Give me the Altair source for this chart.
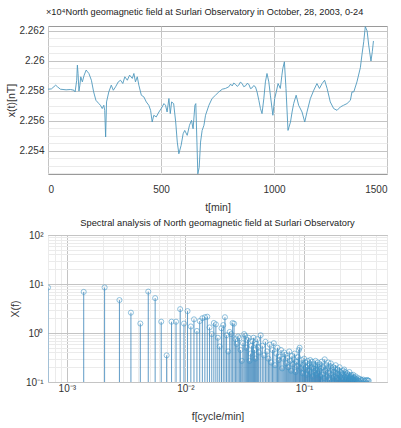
import altair as alt
import pandas as pd

# ---------------- data: time series (t in min, x in 10^4 nT) ----------------
t_min = [0, 15, 34, 42, 55, 80, 100, 115, 120, 127, 130, 133, 137, 141, 145, 152, 160, 169, 175, 181,
         192, 202, 212, 225, 232, 240, 247, 251, 255, 259, 269, 280, 289, 299, 311, 321, 331, 340, 351, 361,
         373, 380, 387, 395, 402, 413, 424, 435, 446, 454, 461, 468, 479, 491, 501, 513, 520, 527, 535, 541,
         547, 556, 565, 572, 579, 589, 598, 605, 616, 626, 635, 642, 650, 654, 659, 663, 669, 675, 682, 690,
         697, 712, 726, 741, 756, 771, 785, 800, 808, 815, 822, 830, 837, 844, 851, 859, 866, 874, 881, 889,
         896, 903, 910, 918, 925, 933, 940, 947, 955, 962, 969, 977, 984, 995, 1003, 1010, 1018, 1028, 1035, 1039,
         1046, 1053, 1062, 1073, 1080, 1087, 1098, 1109, 1124, 1136, 1146, 1161, 1176, 1190, 1201, 1213, 1224, 1235, 1249, 1264,
         1279, 1294, 1308, 1323, 1338, 1345, 1353, 1367, 1382, 1389, 1397, 1404, 1412, 1419, 1429, 1435, 1440]
x_field = [2.25811, 2.25813, 2.25838, 2.25827, 2.25811, 2.25807, 2.25809, 2.25804, 2.25793, 2.25871,
           2.25972, 2.25916, 2.25798, 2.25838, 2.25894, 2.25860, 2.25905, 2.25939, 2.25927, 2.25916,
           2.25871, 2.25793, 2.25737, 2.25715, 2.25704, 2.25682, 2.25704, 2.25670, 2.25492, 2.25726,
           2.25793, 2.25838, 2.25804, 2.25827, 2.25860, 2.25871, 2.25849, 2.25894, 2.25871, 2.25905,
           2.25883, 2.25916, 2.25860, 2.25894, 2.25838, 2.25771, 2.25760, 2.25726, 2.25704, 2.25670,
           2.25592, 2.25637, 2.25626, 2.25659, 2.25682, 2.25715, 2.25704, 2.25659, 2.25749, 2.25648,
           2.25726, 2.25715, 2.25592, 2.25458, 2.25380, 2.25436, 2.25514, 2.25536, 2.25503, 2.25570,
           2.25603, 2.25547, 2.25704, 2.25715, 2.25458, 2.25246, 2.25290, 2.25458, 2.25536, 2.25570,
           2.25637, 2.25704, 2.25749, 2.25771, 2.25793, 2.25811, 2.25816, 2.25827, 2.25845, 2.25833,
           2.25852, 2.25843, 2.25830, 2.25838, 2.25858, 2.25849, 2.25828, 2.25833, 2.25850, 2.25843,
           2.25815, 2.25820, 2.25835, 2.25827, 2.25793, 2.25737, 2.25682, 2.25648, 2.25749, 2.25860,
           2.25916, 2.25860, 2.25771, 2.25637, 2.25749, 2.25793, 2.25849, 2.25816, 2.25905, 2.25950,
           2.25994, 2.25816, 2.25536, 2.25592, 2.25659, 2.25715, 2.25771, 2.25704, 2.25659, 2.25592,
           2.25659, 2.25749, 2.25804, 2.25849, 2.25816, 2.25849, 2.25871, 2.25816, 2.25726, 2.25682,
           2.25670, 2.25693, 2.25704, 2.25715, 2.25737, 2.25793, 2.25793, 2.25860, 2.25954, 2.26039,
           2.26128, 2.26229, 2.26200, 2.26106, 2.25999, 2.26061, 2.26133]

# ---------------- data: spectrum (k = harmonic index, f = k/1440 cycle/min) ----------------
spec_k_low = list(range(1, 61))
spec_amp_low = [8.5, 6.9, 8.5, 4.7, 2.6, 1.56, 7.0, 5.15, 1.7, 0.35,
                1.7, 1.7, 3.07, 1.56, 2.8, 1.36, 1.9, 1.1, 1.75, 2.0,
                2.1, 2.15, 1.3, 0.95, 1.6, 1.5, 0.8, 0.53, 1.25, 1.45,
                2.1, 0.9, 0.42, 1.05, 0.95, 1.6, 1.55, 0.75, 0.6, 0.85,
                0.78, 0.45, 0.27, 0.62, 0.95, 0.88, 0.5, 0.72, 0.8, 0.27,
                0.38, 0.55, 0.68, 0.8, 0.45, 0.3, 0.6, 0.75, 0.52, 0.4]
spec_k_mid = list(range(62, 201, 2))
spec_amp_mid = [0.9, 0.55, 0.35, 0.66, 0.42, 0.3, 0.58, 0.25, 0.45, 0.62,
                0.22, 0.38, 0.5, 0.28, 0.33, 0.45, 0.19, 0.3, 0.4, 0.36,
                0.24, 0.31, 0.2, 0.42, 0.27, 0.17, 0.34, 0.23, 0.29, 0.38,
                0.16, 0.26, 0.21, 0.32, 0.45, 0.5, 0.24, 0.19, 0.28, 0.15,
                0.22, 0.3, 0.18, 0.25, 0.2, 0.14, 0.27, 0.21, 0.17, 0.24,
                0.28, 0.15, 0.2, 0.26, 0.13, 0.19, 0.23, 0.16, 0.21, 0.27,
                0.14, 0.18, 0.22, 0.25, 0.15, 0.2, 0.17, 0.23, 0.13, 0.19]
spec_k_high = list(range(203, 400, 3))
spec_amp_high = [0.26, 0.14, 0.2, 0.12, 0.29, 0.17, 0.22, 0.13, 0.19, 0.25,
                 0.15, 0.11, 0.21, 0.24, 0.14, 0.18, 0.12, 0.2, 0.16, 0.13,
                 0.19, 0.22, 0.12, 0.15, 0.18, 0.11, 0.14, 0.17, 0.2, 0.13,
                 0.16, 0.12, 0.15, 0.11, 0.14, 0.17, 0.12, 0.18, 0.13, 0.16,
                 0.11, 0.14, 0.12, 0.15, 0.13, 0.11, 0.14, 0.12, 0.16, 0.11,
                 0.13, 0.12, 0.14, 0.105, 0.13, 0.115, 0.12, 0.14, 0.11, 0.125,
                 0.105, 0.12, 0.11, 0.13, 0.105, 0.115]
spec_k_tail = [405, 412, 420, 428, 436, 445, 455, 466, 478, 490, 498, 505]
spec_amp_tail = [0.11, 0.12, 0.105, 0.115, 0.11, 0.108, 0.112, 0.105, 0.108, 0.11, 0.107, 0.106]

N_SAMPLES = 1440

# axis tick / grid values
top_x_ticks = [0, 500, 1000, 1500]
top_y_grid = [2.2525, 2.253, 2.2535, 2.254, 2.2545, 2.255, 2.2555, 2.256, 2.2565, 2.257,
              2.2575, 2.258, 2.2585, 2.259, 2.2595, 2.26, 2.2605, 2.261, 2.2615, 2.262]
bot_x_grid = [0.0007, 0.0008, 0.0009, 0.001, 0.002, 0.003, 0.004, 0.005, 0.006, 0.007, 0.008, 0.009,
              0.01, 0.02, 0.03, 0.04, 0.05, 0.06, 0.07, 0.08, 0.09, 0.1, 0.2, 0.3, 0.4, 0.5]
bot_y_grid = [0.1, 0.2, 0.3, 0.4, 0.5, 0.6, 0.7, 0.8, 0.9, 1, 2, 3, 4, 5, 6, 7, 8, 9,
              10, 20, 30, 40, 50, 60, 70, 80, 90, 100]

ts = pd.DataFrame({"t": t_min, "x": x_field})
spec = pd.DataFrame({
    "k": spec_k_low + spec_k_mid + spec_k_high + spec_k_tail,
    "amp": spec_amp_low + spec_amp_mid + spec_amp_high + spec_amp_tail,
})
spec["f"] = spec["k"] / N_SAMPLES

FONT = "Liberation Sans, Arial, sans-serif"
MAJOR = "#c4c4c4"
MINOR = "#ebebeb"
LINE_C = "#4f98bd"
STEM_C = "#2f7db5"
PW = 339

decade_test = "abs(log(datum.value)/LN10 - round(log(datum.value)/LN10)) < 1e-6"
sup_expr = ("round(log(datum.value)/LN10) == -3 ? '10⁻³' : "
            "round(log(datum.value)/LN10) == -2 ? '10⁻²' : "
            "round(log(datum.value)/LN10) == -1 ? '10⁻¹' : "
            "round(log(datum.value)/LN10) == 0 ? '10⁰' : "
            "round(log(datum.value)/LN10) == 1 ? '10¹' : "
            "round(log(datum.value)/LN10) == 2 ? '10²' : ''")

top_major_test = "abs(datum.value*500 - round(datum.value*500)) < 1e-6"

top = alt.Chart(ts).mark_line(color=LINE_C, strokeWidth=0.9, clip=True).encode(
    x=alt.X("t:Q", scale=alt.Scale(domain=[0, 1500], nice=False, zero=False),
            axis=alt.Axis(values=top_x_ticks, title="t[min]", format="d", gridColor=MAJOR,
                          labelPadding=10, titlePadding=8)),
    y=alt.Y("x:Q", scale=alt.Scale(domain=[2.25245, 2.26233], nice=False, zero=False),
            axis=alt.Axis(values=top_y_grid, title="x(t)[nT]",
                          labelExpr=f"{top_major_test} ? format(datum.value, '.4~g') : ''",
                          gridColor={"condition": {"test": top_major_test, "value": MAJOR}, "value": MINOR},
                          labelOverlap=False, labelPadding=4, titlePadding=2)),
).properties(
    width=PW, height=148,
    title=alt.TitleParams("×10⁴North geomagnetic field at Surlari Observatory in October, 28, 2003, 0-24",
                          anchor="start", frame="group", dx=-2, offset=9, fontSize=9.2, font=FONT,
                          fontWeight="normal", color="#222"),
)

base = alt.Chart(spec)
xb = alt.X("f:Q", scale=alt.Scale(type="log", domain=[1 / N_SAMPLES, 0.5], nice=False),
           axis=alt.Axis(values=bot_x_grid, title="f[cycle/min]", labelExpr=f"{decade_test} ? ({sup_expr}) : ''",
                         gridColor={"condition": {"test": decade_test, "value": MAJOR}, "value": MINOR},
                         labelOverlap=False, labelPadding=1, titlePadding=18))
yb = alt.Y("amp:Q", scale=alt.Scale(type="log", domain=[0.1, 100], nice=False),
           axis=alt.Axis(values=bot_y_grid, title="X(f)", labelExpr=f"{decade_test} ? ({sup_expr}) : ''",
                         gridColor={"condition": {"test": decade_test, "value": MAJOR}, "value": MINOR},
                         labelOverlap=False, labelPadding=5, titlePadding=5))
stems = base.mark_rule(color=STEM_C, strokeWidth=0.9, opacity=0.85, clip=True).encode(
    x=xb, y=yb, y2=alt.datum(0.1))
dots = base.mark_point(shape="circle", filled=False, color="#3d94c6", size=26, strokeWidth=0.8,
                       clip=True).encode(x=xb, y=yb)
bottom = alt.layer(stems, dots).properties(
    width=PW, height=147,
    title=alt.TitleParams("Spectral analysis of North geomagnetic field at Surlari Observatory",
                          anchor="middle", frame="group", offset=2, fontSize=9.3, font=FONT,
                          fontWeight="normal", color="#222"),
)

chart = alt.vconcat(top, bottom, spacing=5).properties(
    padding={"left": 6, "top": 7, "right": 0, "bottom": 2}
).configure_view(stroke="#9a9a9a", strokeWidth=1).configure_axis(
    domain=False, ticks=False, labelFont=FONT, labelFontSize=10, labelColor="#333",
    titleFont=FONT, titleFontSize=10.5, titleFontWeight="normal", titleColor="#333",
    gridWidth=1, labelBound=False,
)

chart.save("out.html", embed_options={"renderer": "svg", "actions": False})
